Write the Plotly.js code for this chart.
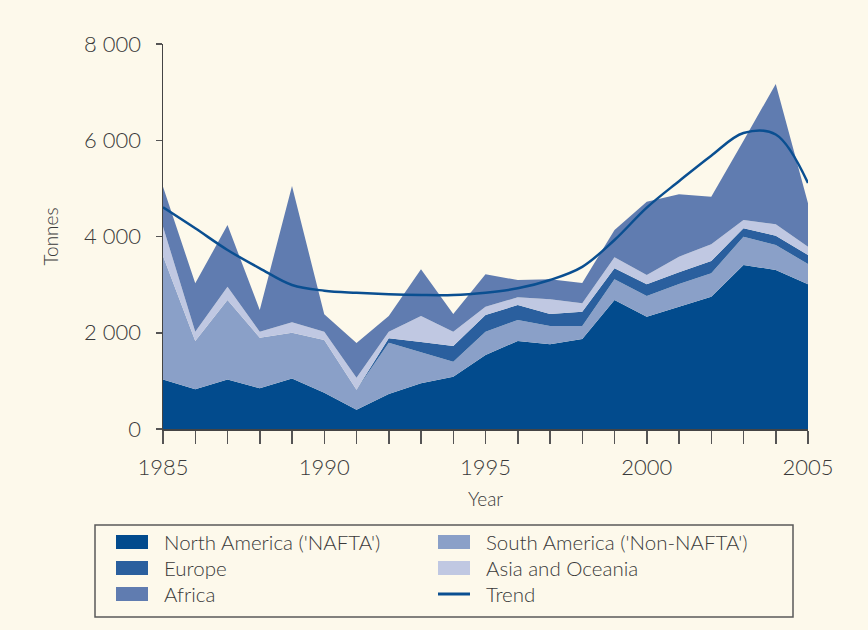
<!DOCTYPE html>
<html>
<head>
<meta charset="utf-8">
<script src="https://cdn.plot.ly/plotly-3.0.1.min.js"></script>
<style>html,body{margin:0;padding:0;background:#fdf9eb;}#chart{width:868px;height:630px;}</style>
</head>
<body>
<div id="chart"></div>
<script>
// ---- data ----
var years = [1985,1986,1987,1988,1989,1990,1991,1992,1993,1994,1995,1996,1997,1998,1999,2000,2001,2002,2003,2004,2005];
var northAmerica = [1030,825,1030,845,1050,755,400,727,949,1087,1538,1829,1760,1870,2681,2334,2542,2750,3408,3304,3006];
var southAmerica = [2565,1004,1651,1053,952,1095,415,1067,644,312,484,436,380,270,429,430,471,485,588,519,423];
var europe = [0,0,0,0,0,0,0,90,215,326,347,312,250,298,229,242,243,256,174,194,187];
var asiaOceania = [609,193,276,124,215,172,250,138,540,297,173,159,304,173,228,194,325,346,173,236,173];
var africa = [831,1005,1282,451,2833,361,720,326,970,368,672,360,416,424,568,1524,1295,990,1648,2917,901];
var trend = [4606,4170,3720,3339,2992,2874,2830,2800,2784,2784,2833,2923,3096,3370,3927,4600,5150,5680,6150,6120,5110];

var seriesNames = ["North America ('NAFTA')", "South America ('Non-NAFTA')", "Europe", "Asia and Oceania", "Africa", "Trend"];
var seriesColors = ["#024b8d", "#8aa0c8", "#2a5f9e", "#c0c8e2", "#607cb0", "#0a4f91"];
var xTickVals = [1985,1990,1995,2000,2005];
var xTickText = ["1985","1990","1995","2000","2005"];
var yTickVals = [0,2000,4000,6000,8000];

// ---- layout helpers ----
var L = 163, R = 808, T = 44, B = 429;
function px(x){ return (x - L) / (R - L); }
function py(y){ return (B - y) / (B - T); }
var FONT = "Lato, 'Open Sans', sans-serif";
var TXT = "#3a3a3a";
var BG = "#fdf9eb";

var stackVals = [northAmerica, southAmerica, europe, asiaOceania, africa];
var traces = stackVals.map(function(v, i){
  return {
    x: years, y: v, name: seriesNames[i], type: 'scatter', mode: 'none',
    stackgroup: 'one', fill: i === 0 ? 'tozeroy' : 'tonexty',
    fillcolor: seriesColors[i], showlegend: false, hoverinfo: 'skip'
  };
});
traces.push({
  x: years, y: trend, name: seriesNames[5], type: 'scatter', mode: 'lines',
  line: {color: seriesColors[5], width: 2.5, shape: 'spline', smoothing: 1},
  showlegend: false, hoverinfo: 'skip'
});

// ---- manual legend ----
var shapes = [{
  type: 'rect', xref: 'paper', yref: 'paper',
  x0: px(95), x1: px(793), y0: py(525), y1: py(617),
  line: {color: '#5a5a5a', width: 1.5}, fillcolor: BG, layer: 'below'
}];
var annotations = [];
var slots = [[0,0],[1,0],[0,1],[1,1],[0,2],[1,2]];
var colSw = [116, 438], colTx = [162, 484], rowY = [542, 568, 594];
slots.forEach(function(s, i){
  var c = s[0], r = s[1];
  if (i < 5) {
    shapes.push({type:'rect', xref:'paper', yref:'paper',
      x0: px(colSw[c]), x1: px(colSw[c] + 32), y0: py(rowY[r] - 7), y1: py(rowY[r] + 7),
      line: {width: 0}, fillcolor: seriesColors[i]});
  } else {
    shapes.push({type:'line', xref:'paper', yref:'paper',
      x0: px(colSw[c]), x1: px(colSw[c] + 32), y0: py(rowY[r]), y1: py(rowY[r]),
      line: {width: 3, color: seriesColors[i]}});
  }
  annotations.push({xref:'paper', yref:'paper', x: px(colTx[c]), y: py(rowY[r]),
    xanchor:'left', yanchor:'middle', showarrow:false, text: seriesNames[i],
    font: {family: FONT, size: 20.5, color: TXT, weight: 300}});
});

var layout = {
  width: 868, height: 630,
  paper_bgcolor: BG, plot_bgcolor: BG,
  margin: {l: L, r: 868 - R, t: T, b: 630 - B},
  separators: '. ',
  showlegend: false,
  font: {family: FONT, color: TXT, weight: 300},
  xaxis: {
    range: [1985, 2005], showgrid: false, zeroline: false,
    showline: true, linecolor: '#444', linewidth: 1.5,
    tickmode: 'array', tickvals: xTickVals, ticktext: xTickText,
    ticks: 'outside', ticklen: 13, tickwidth: 1.5, tickcolor: '#555',
    ticklabelstandoff: 5,
    minor: {dtick: 1, tick0: 1985, ticks: 'outside', ticklen: 13, tickwidth: 1.5, tickcolor: '#555', showgrid: false},
    tickfont: {family: FONT, size: 22, color: TXT, weight: 300},
    title: {text: 'Year', font: {family: FONT, size: 19, color: TXT, weight: 300}, standoff: 14}
  },
  yaxis: {
    range: [0, 8000], showgrid: false, zeroline: false,
    showline: true, linecolor: '#444', linewidth: 1.5,
    tickmode: 'array', tickvals: yTickVals, separatethousands: true, tickformat: ',d',
    ticks: 'outside', ticklen: 6, tickwidth: 1.5, tickcolor: '#555',
    ticklabelstandoff: 10,
    tickfont: {family: FONT, size: 22, color: TXT, weight: 300},
    title: {text: 'Tonnes', font: {family: FONT, size: 19, color: TXT, weight: 300}, standoff: 20}
  },
  shapes: shapes,
  annotations: annotations
};

Plotly.newPlot('chart', traces, layout, {displayModeBar: false, staticPlot: true});
</script>
</body>
</html>
